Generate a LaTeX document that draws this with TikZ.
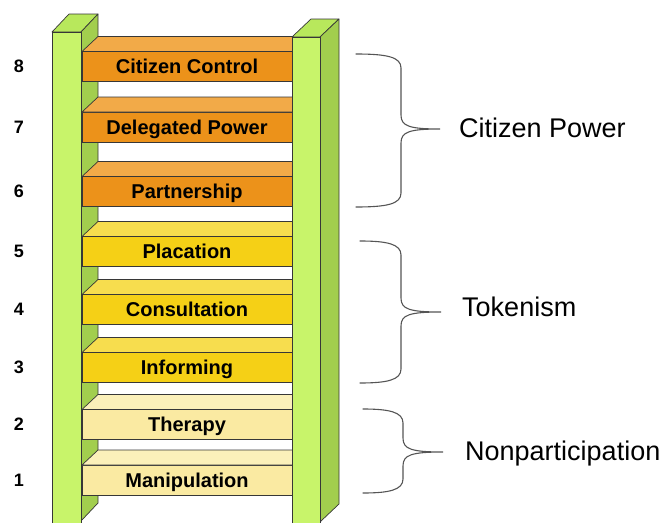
\documentclass[tikz,border=0pt]{standalone}
\usepackage{fontspec}
\setmainfont{Liberation Sans}
\usetikzlibrary{positioning}

\definecolor{edge}{RGB}{55,55,55}
\definecolor{railfront}{RGB}{200,244,106}
\definecolor{railtop}{RGB}{184,232,92}
\definecolor{railside}{RGB}{162,206,78}
\definecolor{orangefront}{RGB}{236,146,26}
\definecolor{orangetop}{RGB}{242,170,72}
\definecolor{yellowfront}{RGB}{245,208,22}
\definecolor{yellowtop}{RGB}{247,221,78}
\definecolor{palefront}{RGB}{250,234,162}
\definecolor{paletop}{RGB}{251,240,186}
\definecolor{bracegray}{RGB}{85,85,85}

\begin{document}
\begin{tikzpicture}[x=1pt,y=-1pt,
  rung/.style={draw=edge,line width=.7pt,minimum width=210pt,minimum height=30pt,
    inner sep=0pt,outer sep=0pt,text height=14.3pt,text depth=0pt,
    font=\fontsize{20}{24}\selectfont\bfseries},
  num/.style={inner sep=0pt,font=\fontsize{18}{21}\selectfont\bfseries},
  group/.style={inner sep=0pt,anchor=base west,font=\fontsize{27}{32}\selectfont},
  face/.style={draw=edge,line width=.7pt,line join=round},
  curly/.style={draw=bracegray,line width=1.1pt,line cap=round}]

\useasboundingbox (0,0) rectangle (669,522);

% left rail
\filldraw[face,fill=railtop] (52,32) -- (69,14) -- (98,14) -- (81,32) -- cycle;
\filldraw[face,fill=railside] (81,32) -- (98,14) -- (98,503) -- (81,521) -- cycle;
\filldraw[face,fill=railfront] (52,32) rectangle (81,526);

% rungs
\node(r1)[rung,fill=palefront] at (187,480){Manipulation};

\node(r2)[rung,fill=palefront] at (187,424.5){Therapy};

\node(r3)[rung,fill=yellowfront] at (187,367.5){Informing};

\node(r4)[rung,fill=yellowfront] at (187,309.5){Consultation};

\node(r5)[rung,fill=yellowfront] at (187,251.5){Placation};

\node(r6)[rung,fill=orangefront] at (187,191.5){Partnership};

\node(r7)[rung,fill=orangefront] at (187,127){Delegated Power};

\node(r8)[rung,fill=orangefront] at (187,66.5){Citizen Control};

\foreach \r/\c in {r1/paletop,r2/paletop,r3/yellowtop,r4/yellowtop,r5/yellowtop,r6/orangetop,r7/orangetop,r8/orangetop}
  \filldraw[face,fill=\c] (\r.north west) -- ++(16,-15) -- ([shift={(16,-15)}]\r.north east) -- (\r.north east) -- cycle;

% right rail
\filldraw[face,fill=railtop] (292,37) -- (311,19) -- (339,19) -- (320,37) -- cycle;
\filldraw[face,fill=railside] (320,37) -- (339,19) -- (339,504) -- (320,522) -- cycle;
\filldraw[face,fill=railfront] (292,37) rectangle (320,526);

% step numbers
\foreach \i in {1,...,8}
  \node(n\i)[num,left = 58pt of r\i]{\i};

% groups
\node(cp)[group] at (459,137){Citizen Power};

\node(tk)[group] at (462,316){Tokenism};

\node(np)[group] at (465,460){Nonparticipation};

\foreach \xa/\xb/\xc/\t/\m/\b in {356/401/440/54/129/207,360/401/441/241/312/383,363/403/443/409/452/493}
  \draw[curly] (\xa,\t) .. controls (\xb-14,\t) and (\xb,\t+3) .. (\xb,\t+14)
    -- (\xb,\m-14) .. controls (\xb,\m-3) and (\xb+8,\m) .. (\xc,\m)
    .. controls (\xb+8,\m) and (\xb,\m+3) .. (\xb,\m+14)
    -- (\xb,\b-14) .. controls (\xb,\b-3) and (\xb-14,\b) .. (\xa,\b);

\end{tikzpicture}
\end{document}
